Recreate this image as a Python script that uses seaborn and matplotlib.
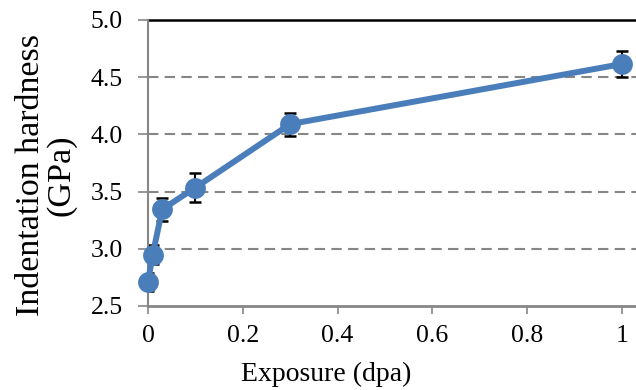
import matplotlib
matplotlib.use("Agg")
import matplotlib.pyplot as plt
import seaborn as sns
import pandas as pd

exposure = [0.0, 0.01, 0.03, 0.1, 0.3, 1.0]
hardness = [2.71, 2.95, 3.345, 3.535, 4.09, 4.615]
errors = [0.08, 0.08, 0.10, 0.13, 0.10, 0.11]
y_ticks = [2.5, 3.0, 3.5, 4.0, 4.5, 5.0]
x_ticks = [0, 0.2, 0.4, 0.6, 0.8, 1.0]
x_tick_labels = ["0", "0.2", "0.4", "0.6", "0.8", "1"]

sns.set_theme(style="white")
serif = ["Liberation Serif", "DejaVu Serif"]
plt.rcParams["font.family"] = serif
plt.rcParams["text.color"] = "black"
plt.rcParams["axes.labelcolor"] = "black"
plt.rcParams["xtick.labelcolor"] = "black"
plt.rcParams["ytick.labelcolor"] = "black"

df = pd.DataFrame({"Exposure": exposure, "Hardness": hardness})

fig = plt.figure(figsize=(6.36, 3.9), dpi=100)
ax = fig.add_axes([148 / 636, 1 - 306 / 390, 1 - 148 / 636, (306 - 20) / 390])

blue = "#4A7EBB"
grey = "#868686"

for y in y_ticks[1:-1]:
    ax.axhline(y, color=grey, lw=1.5, ls=(0, (5, 3)), zorder=0)
ax.axhline(5.0, color="black", lw=1.8, zorder=1, clip_on=False)

ax.errorbar(exposure, hardness, yerr=errors, fmt="none", ecolor="black",
            elinewidth=1.5, capsize=4.3, capthick=1.8, zorder=2)
sns.lineplot(data=df, x="Exposure", y="Hardness", ax=ax, color=blue,
             linewidth=4.3, marker="o", markersize=15, markeredgewidth=0,
             zorder=3, clip_on=False)

ax.set_xlim(0, 1.03)
ax.set_ylim(2.5, 5.0)
ax.set_yticks(y_ticks)
ax.set_yticklabels([f"{v:.1f}" for v in y_ticks], fontfamily=serif,
                   fontsize=18.5, color="black")
ax.set_xticks(x_ticks)
ax.set_xticklabels(x_tick_labels, fontfamily=serif, fontsize=18.5,
                   color="black")

for s in ["top", "right"]:
    ax.spines[s].set_visible(False)
ax.spines["left"].set_color(grey)
ax.spines["left"].set_linewidth(1.5)
ax.spines["bottom"].set_color(grey)
ax.spines["bottom"].set_linewidth(2)

ax.tick_params(axis="y", which="major", direction="out", length=7, width=1.2,
               color=grey, pad=11, left=True)
ax.tick_params(axis="x", which="major", direction="out", length=6, width=1.2,
               color=grey, pad=8, bottom=True)

ax.set_xlabel("Exposure (dpa)", fontsize=20, color="black", fontfamily=serif)
ax.xaxis.set_label_coords((326 - 148) / 488, -(374 - 306) / 286)
ax.xaxis.label.set_va("center")
ax.set_ylabel("Indentation hardness\n(GPa)", fontsize=24.5, linespacing=1.0,
              color="black", fontfamily=serif)
ax.yaxis.set_label_coords((46 - 148) / 488, 1 - (175 - 20) / 286)
ax.yaxis.label.set_va("center")

fig.savefig("out.png", dpi=100)
